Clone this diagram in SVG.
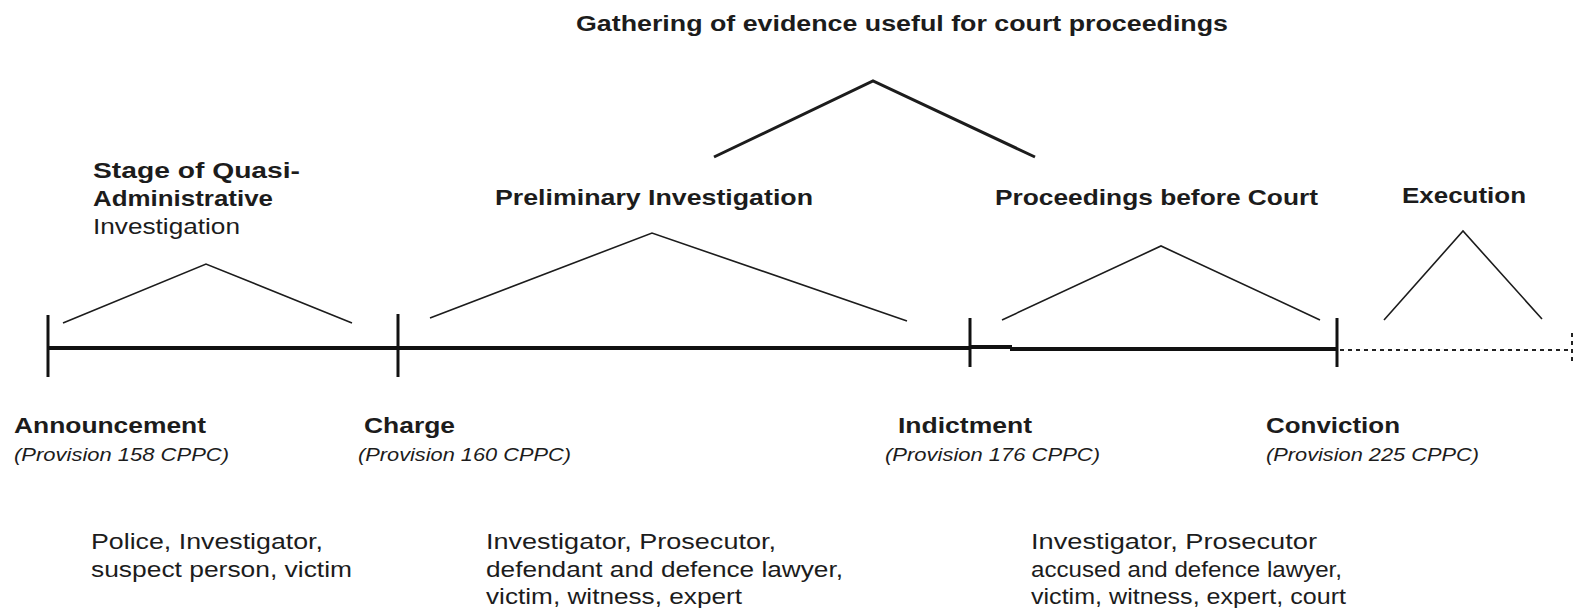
<svg xmlns="http://www.w3.org/2000/svg" width="1585" height="608" viewBox="0 0 1585 608">
<style>
text{font-family:"Liberation Sans",Arial,sans-serif;fill:#1c1c1c}
.b{font-weight:bold;font-size:22px}
.r{font-size:22px}
.i{font-style:italic;font-size:18px}
.thin{stroke:#1c1c1c;stroke-width:1.6;fill:none}
.thick{stroke:#1c1c1c;stroke-width:3;fill:none}
.main{stroke:#111;stroke-width:4;fill:none}
.tick{stroke:#111;stroke-width:3}
</style>
<rect width="1585" height="608" fill="#fff"/>
<g id="title">
<text class="b" x="576" y="31" textLength="652" lengthAdjust="spacingAndGlyphs">Gathering of evidence useful for court proceedings</text>
<polyline class="thick" points="714,157 873,81 1035,157"/>
</g>
<g id="connectors">
<line class="main" x1="48" y1="348" x2="970" y2="348"/>
<line class="main" x1="970" y1="347" x2="1012" y2="347"/>
<line class="main" x1="1010" y1="349" x2="1337" y2="349"/>
<line stroke="#222" stroke-width="2" stroke-dasharray="4,4" x1="1340" y1="350" x2="1572" y2="350"/>
<line stroke="#222" stroke-width="2" stroke-dasharray="4,4" x1="1572" y1="333" x2="1572" y2="363"/>
</g>
<g id="stage-quasi">
<text class="b" x="93" y="178" textLength="207" lengthAdjust="spacingAndGlyphs">Stage of Quasi-</text>
<text class="b" x="93" y="206" textLength="180" lengthAdjust="spacingAndGlyphs">Administrative</text>
<text class="r" x="93" y="234" textLength="147" lengthAdjust="spacingAndGlyphs">Investigation</text>
<polyline class="thin" points="63,323 206,264 352,323"/>
</g>
<g id="preliminary">
<text class="b" x="495" y="205" textLength="318" lengthAdjust="spacingAndGlyphs">Preliminary Investigation</text>
<polyline class="thin" points="430,318 652,233 907,321"/>
</g>
<g id="court">
<text class="b" x="995" y="205" textLength="323" lengthAdjust="spacingAndGlyphs">Proceedings before Court</text>
<polyline class="thin" points="1002,320 1161,246 1320,320"/>
</g>
<g id="execution">
<text class="b" x="1402" y="203" textLength="124" lengthAdjust="spacingAndGlyphs">Execution</text>
<polyline class="thin" stroke-width="2" points="1384,320 1463,231 1542,319"/>
</g>
<g id="announcement">
<line class="tick" x1="48" y1="315" x2="48" y2="377"/>
<text class="b" x="14" y="433" textLength="192" lengthAdjust="spacingAndGlyphs">Announcement</text>
<text class="i" x="14" y="461" textLength="215" lengthAdjust="spacingAndGlyphs">(Provision 158 CPPC)</text>
</g>
<g id="charge">
<line class="tick" x1="398" y1="314" x2="398" y2="377"/>
<text class="b" x="364" y="433" textLength="91" lengthAdjust="spacingAndGlyphs">Charge</text>
<text class="i" x="358" y="461" textLength="213" lengthAdjust="spacingAndGlyphs">(Provision 160 CPPC)</text>
</g>
<g id="indictment">
<line class="tick" x1="970" y1="318" x2="970" y2="367"/>
<text class="b" x="898" y="433" textLength="134" lengthAdjust="spacingAndGlyphs">Indictment</text>
<text class="i" x="885" y="461" textLength="215" lengthAdjust="spacingAndGlyphs">(Provision 176 CPPC)</text>
</g>
<g id="conviction">
<line class="tick" x1="1337" y1="318" x2="1337" y2="367"/>
<text class="b" x="1266" y="433" textLength="134" lengthAdjust="spacingAndGlyphs">Conviction</text>
<text class="i" x="1266" y="461" textLength="213" lengthAdjust="spacingAndGlyphs">(Provision 225 CPPC)</text>
</g>
<g id="actors-1">
<text class="r" x="91" y="549" textLength="232" lengthAdjust="spacingAndGlyphs">Police, Investigator,</text>
<text class="r" x="91" y="577" textLength="261" lengthAdjust="spacingAndGlyphs">suspect person, victim</text>
</g>
<g id="actors-2">
<text class="r" x="486" y="549" textLength="290" lengthAdjust="spacingAndGlyphs">Investigator, Prosecutor,</text>
<text class="r" x="486" y="577" textLength="357" lengthAdjust="spacingAndGlyphs">defendant and defence lawyer,</text>
<text class="r" x="486" y="604" textLength="256" lengthAdjust="spacingAndGlyphs">victim, witness, expert</text>
</g>
<g id="actors-3">
<text class="r" x="1031" y="549" textLength="286" lengthAdjust="spacingAndGlyphs">Investigator, Prosecutor</text>
<text class="r" x="1031" y="577" textLength="311" lengthAdjust="spacingAndGlyphs">accused and defence lawyer,</text>
<text class="r" x="1031" y="604" textLength="315" lengthAdjust="spacingAndGlyphs">victim, witness, expert, court</text>
</g>
</svg>
